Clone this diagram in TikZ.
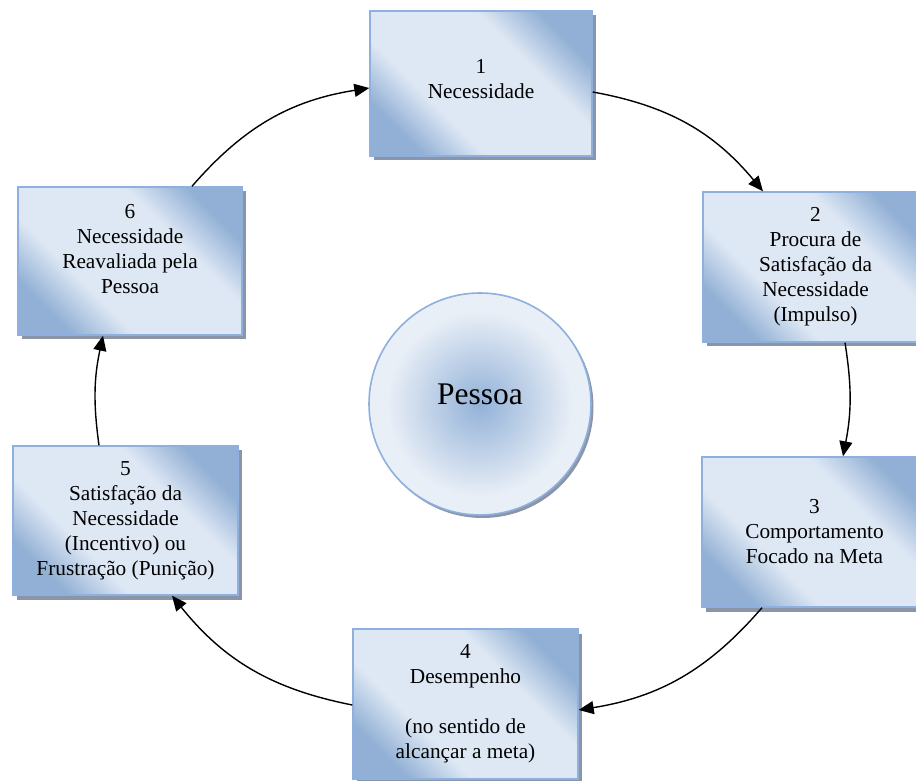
\documentclass[tikz,border=0pt]{standalone}
\usepackage{fontspec}
\setmainfont{Liberation Serif}
\usetikzlibrary{arrows.meta,shadows,shapes.geometric}
\definecolor{boxdark}{RGB}{146,176,213}
\definecolor{boxlight}{RGB}{222,232,244}
\definecolor{boxborder}{RGB}{141,176,222}
\definecolor{shadowgray}{RGB}{138,150,168}
\definecolor{pdark}{RGB}{146,177,215}
\definecolor{plight}{RGB}{233,239,247}
\pgfdeclareradialshading{pessoashade}{\pgfpoint{0bp}{0bp}}{color(0bp)=(pdark); color(21bp)=(plight); color(25bp)=(plight); color(50bp)=(plight)}
\pgfdeclareverticalshading{stageshade}{100bp}{color(0bp)=(boxdark); color(25bp)=(boxdark); color(37bp)=(boxlight); color(63bp)=(boxlight); color(75bp)=(boxdark); color(100bp)=(boxdark)}
\tikzset{
  stagebox/.style={rectangle, draw=boxborder, line width=1.4pt, inner sep=0pt,
    shading=stageshade, shading angle=-45,
    align=center, font=\fontsize{21.3}{25}\selectfont, text=black,
    drop shadow={shadow xshift=3.5pt, shadow yshift=-4.5pt, fill=shadowgray, opacity=1}},
  personcircle/.style={circle, draw=boxborder, line width=1.6pt, inner sep=0pt,
    shading=pessoashade, font=\fontsize{31.5}{36}\selectfont, text=black,
    drop shadow={shadow xshift=2.5pt, shadow yshift=-3pt, fill=shadowgray, opacity=1}},
  cyclearrow/.style={line width=1.4pt, draw=black, -{Triangle[length=15pt,width=13pt]}}
}
\begin{document}
\begin{tikzpicture}[x=1pt,y=1pt]
\useasboundingbox (0,0) rectangle (916,780);
\clip (0,0) rectangle (916,780);
\fill[white] (0,0) rectangle (916,780);

\node[stagebox, minimum width=222pt, minimum height=145pt] (b1) at (481,696.5) {1\\Necessidade\\[-24pt]\strut};
\node[stagebox, minimum width=225pt, minimum height=150pt] (b2) at (815.5,513) {2\\Procura de\\Satisfação da\\Necessidade\\(Impulso)};
\node[stagebox, minimum width=225pt, minimum height=150pt] (b3) at (814.5,248) {3\\Comportamento\\Focado na Meta};
\node[stagebox, minimum width=225pt, minimum height=150pt] (b4) at (465.5,76) {4\\Desempenho\\[25pt](no sentido de\\alcançar a meta)};
\node[stagebox, minimum width=225pt, minimum height=149pt] (b5) at (125.5,259.5) {5\\Satisfação da\\Necessidade\\(Incentivo) ou\\Frustração (Punição)};
\node[stagebox, minimum width=224pt, minimum height=148pt] (b6) at (130,519) {6\\Necessidade\\Reavaliada pela\\Pessoa\\[-8pt]\strut};

\node[personcircle, minimum size=222pt] (p) at (480,376) {\raisebox{20pt}{Pessoa}};

\draw[cyclearrow] ([xshift=62pt]b6.north) to[bend left=20] ([yshift=-4.5pt]b1.west);
\draw[cyclearrow] ([yshift=-8.5pt]b1.east) to[bend left=20] ([xshift=-52.5pt]b2.north);
\draw[cyclearrow] ([xshift=29.5pt]b2.south) to[bend left=10] ([xshift=28.5pt]b3.north);
\draw[cyclearrow] ([xshift=-52.5pt]b3.south) to[bend left=20] ([yshift=-6pt]b4.east);
\draw[cyclearrow] ([yshift=-1pt]b4.west) to[bend left=20] ([xshift=46.5pt]b5.south);
\draw[cyclearrow] ([xshift=-26.5pt]b5.north) to[bend left=10] ([xshift=-27pt]b6.south);
\end{tikzpicture}
\end{document}
